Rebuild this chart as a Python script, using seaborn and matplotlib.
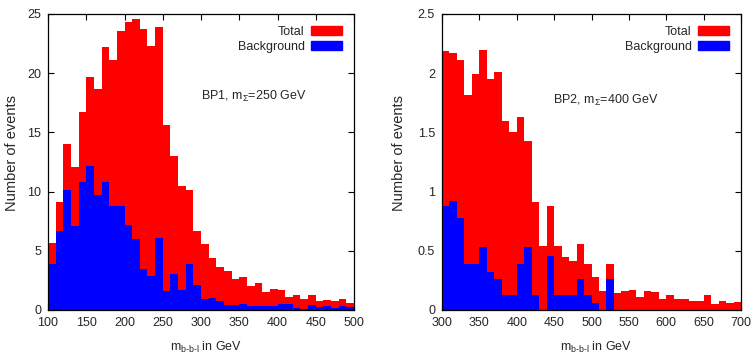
import numpy as np
import pandas as pd
import matplotlib
matplotlib.use("Agg")
import matplotlib.pyplot as plt
import seaborn as sns
from matplotlib.patches import Patch
from matplotlib.ticker import FormatStrFormatter

# BP1: m_Sigma = 250 GeV, 10 GeV bins from 100 to 500
bp1_edges = list(range(100, 501, 10))
bp1_total = [5.7, 9.1, 14.0, 12.1, 16.7, 19.7, 18.7, 22.2, 21.1, 23.6,
             24.3, 24.6, 23.7, 22.3, 23.9, 15.6, 13.0, 10.5, 10.1, 6.7,
             5.6, 4.4, 3.6, 3.3, 2.6, 2.8, 2.0, 2.3, 1.5, 1.75,
             1.7, 1.1, 1.3, 0.93, 1.3, 0.8, 0.85, 0.8, 0.9, 0.6]
bp1_bkg = [3.9, 6.7, 10.1, 7.1, 10.8, 12.2, 9.7, 10.8, 8.8, 8.8,
           7.2, 6.0, 3.5, 2.9, 6.1, 1.6, 3.0, 1.7, 3.9, 2.1,
           0.9, 1.0, 0.75, 0.4, 0.4, 0.5, 0.35, 0.3, 0.3, 0.3,
           0.5, 0.5, 0.15, 0.05, 0.45, 0.25, 0.3, 0.15, 0.3, 0.25]

# BP2: m_Sigma = 400 GeV, 10 GeV bins from 300 to 700
bp2_edges = list(range(300, 701, 10))
bp2_total = [2.19, 2.17, 2.11, 1.82, 1.99, 2.20, 1.95, 2.01, 1.60, 1.50,
             1.63, 1.43, 0.91, 0.54, 0.88, 0.54, 0.45, 0.41, 0.56, 0.39,
             0.28, 0.16, 0.39, 0.14, 0.16, 0.17, 0.11, 0.16, 0.15, 0.09,
             0.13, 0.09, 0.09, 0.08, 0.08, 0.13, 0.05, 0.08, 0.06, 0.07]
bp2_bkg = [0.88, 0.92, 0.78, 0.39, 0.39, 0.53, 0.32, 0.26, 0.13, 0.13,
           0.39, 0.53, 0.13, 0.0, 0.46, 0.13, 0.13, 0.13, 0.26, 0.13,
           0.06, 0.0, 0.26, 0.0, 0.0, 0.0, 0.0, 0.0, 0.0, 0.0,
           0.0, 0.0, 0.0, 0.0, 0.0, 0.0, 0.0, 0.0, 0.0, 0.0]

sns.set_style("ticks")
plt.rcParams['font.family'] = ['Liberation Sans', 'DejaVu Sans']
plt.rcParams['font.size'] = 9
plt.rcParams['mathtext.fontset'] = 'custom'
plt.rcParams['mathtext.rm'] = 'Liberation Sans'
plt.rcParams['mathtext.it'] = 'Liberation Sans'

fig = plt.figure(figsize=(7.53, 3.56), dpi=100)
ax1 = fig.add_axes([48 / 753, 46 / 356, 306 / 753, 296 / 356])
ax2 = fig.add_axes([442 / 753, 46 / 356, 299 / 753, 296 / 356])


def draw_panel(ax, edges, total, bkg, ymax, yticks, label, label_xy, ylab_x):
    centers = [(a + b) / 2 for a, b in zip(edges[:-1], edges[1:])]
    df = pd.DataFrame({"m": centers, "total": total, "bkg": bkg})
    sns.histplot(data=df, x="m", weights="total", bins=edges, element="step", fill=True,
                 color="#ff0000", alpha=1, linewidth=0, ax=ax)
    sns.histplot(data=df, x="m", weights="bkg", bins=edges, element="step", fill=True,
                 color="#0000ff", alpha=1, linewidth=0, ax=ax)
    ax.set_xlim(edges[0], edges[-1])
    ax.set_ylim(0, ymax)
    ax.set_xticks(np.arange(edges[0], edges[-1] + 1, 50))
    ax.set_yticks(yticks)
    ax.yaxis.set_major_formatter(FormatStrFormatter('%g'))
    ax.tick_params(direction='in', length=4, width=0.8, top=True, right=True,
                   labelsize=9, pad=5, color='black')
    for s in ax.spines.values():
        s.set_linewidth(0.9)
        s.set_color('black')
    ax.set_ylabel("Number of events", fontsize=10.5)
    ax.yaxis.set_label_coords(ylab_x, 0.53)
    ax.set_xlabel("m$_{\\mathregular{b\u2010b\u2010l}}$ in GeV", fontsize=9)
    ax.xaxis.set_label_coords(0.515, -0.1)
    ax.text(label_xy[0], label_xy[1], label, fontsize=9, va='center')
    ax.legend(handles=[Patch(color='#ff0000', label='Total'),
                       Patch(color='#0000ff', label='Background')],
              loc='upper right', frameon=False, markerfirst=False,
              handlelength=2.5, handleheight=0.7, borderaxespad=0.55,
              labelspacing=0.25, handletextpad=0.5, fontsize=9)


draw_panel(ax1, bp1_edges, bp1_total, bp1_bkg, 25, np.arange(0, 26, 5),
           "BP1, m$_{\\Sigma}$=250 GeV", (300, 18), -0.095)
draw_panel(ax2, bp2_edges, bp2_total, bp2_bkg, 2.5, np.arange(0, 2.51, 0.5),
           "BP2, m$_{\\Sigma}$=400 GeV", (449, 1.77), -0.12)

fig.savefig("out.png", dpi=100)
